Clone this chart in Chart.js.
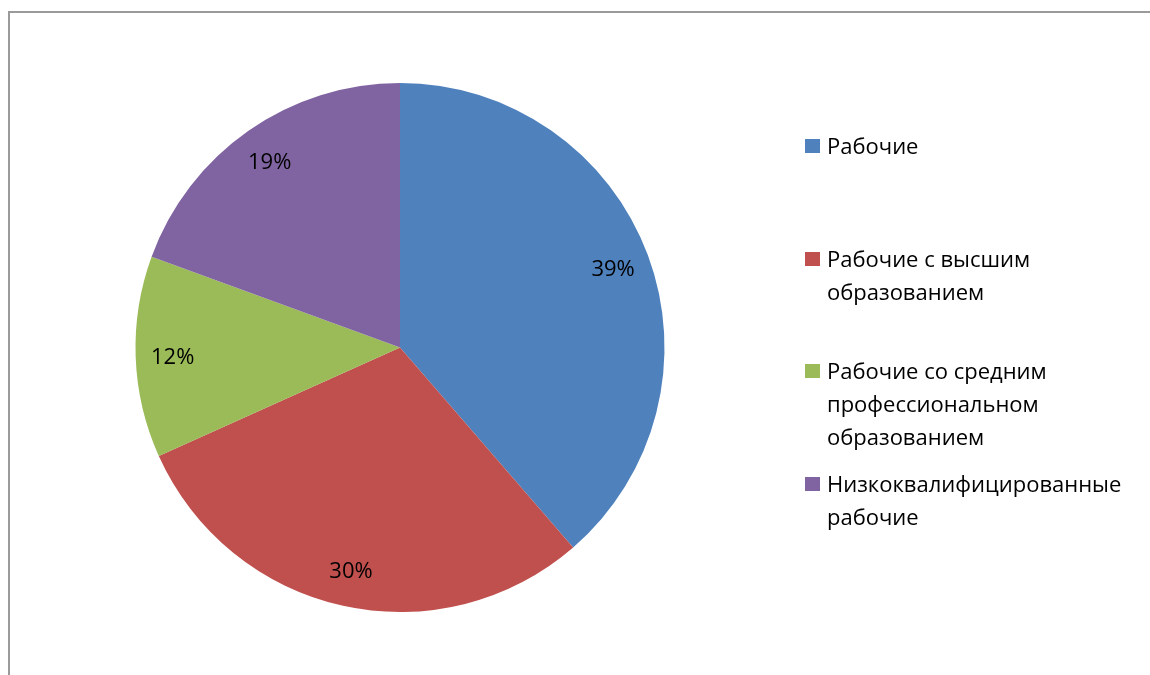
<!DOCTYPE html>
<html>
<head>
<meta charset="utf-8">
<script src="https://cdn.jsdelivr.net/npm/chart.js@4"></script>
<style>
  html, body { margin: 0; padding: 0; background: #fff; }
  #wrap { position: relative; width: 1150px; height: 675px; }
  #frame { position: absolute; left: 8px; top: 11px; right: -2px; bottom: -2px; border-top: 2px solid #9a9a9a; border-left: 2px solid #9a9a9a; }
  canvas { position: absolute; left: 0; top: 0; }
</style>
</head>
<body>
<div id="wrap">
  <div id="frame"></div>
  <canvas id="pie" width="1150" height="675"></canvas>
</div>
<script>
// categories and values (share of workers, %)
const categories = [
  ['Рабочие'],
  ['Рабочие с высшим', 'образованием'],
  ['Рабочие со средним', 'профессиональном', 'образованием'],
  ['Низкоквалифицированные', 'рабочие']
];
const shares = [38.6, 29.6, 12.3, 19.4];
const colors = ['#4F81BD', '#C0504D', '#9BBB59', '#8064A2'];

const FONT = '"Open Sans", "Liberation Sans", sans-serif';

// percent labels inside slices
const sliceLabels = {
  id: 'sliceLabels',
  afterDatasetsDraw(chart) {
    const ctx = chart.ctx;
    const meta = chart.getDatasetMeta(0);
    const total = shares.reduce((a, b) => a + b, 0);
    ctx.save();
    ctx.font = '22px ' + FONT;
    ctx.fillStyle = '#000';
    ctx.textAlign = 'center';
    ctx.textBaseline = 'middle';
    meta.data.forEach((arc, i) => {
      const mid = (arc.startAngle + arc.endAngle) / 2;
      const r = arc.outerRadius * 0.86;
      const x = arc.x + Math.cos(mid) * r;
      const y = arc.y + Math.sin(mid) * r + 2;
      ctx.fillText(Math.round(shares[i] / total * 100) + '%', x, y);
    });
    ctx.restore();
  }
};

// legend on the right, wrapped like the original
const sideLegend = {
  id: 'sideLegend',
  afterDraw(chart) {
    const ctx = chart.ctx;
    const rowY = [146, 259, 371, 484];
    const lineH = 33;
    ctx.save();
    ctx.font = '22px ' + FONT;
    ctx.textBaseline = 'middle';
    ctx.textAlign = 'left';
    chart.data.labels.forEach((lines, i) => {
      ctx.fillStyle = colors[i];
      ctx.fillRect(805, rowY[i] - 7, 15, 14);
      ctx.fillStyle = '#000';
      lines.forEach((t, k) => ctx.fillText(t, 827, rowY[i] + 2 + k * lineH));
    });
    ctx.restore();
  }
};

new Chart(document.getElementById('pie'), {
  type: 'pie',
  data: {
    labels: categories,
    datasets: [{
      data: shares,
      backgroundColor: colors,
      borderWidth: 0
    }]
  },
  options: {
    responsive: false,
    animation: false,
    layout: { padding: { left: 135, right: 485, top: 83, bottom: 63 } },
    plugins: {
      legend: { display: false },
      tooltip: { enabled: false }
    }
  },
  plugins: [sliceLabels, sideLegend]
});
</script>
</body>
</html>
